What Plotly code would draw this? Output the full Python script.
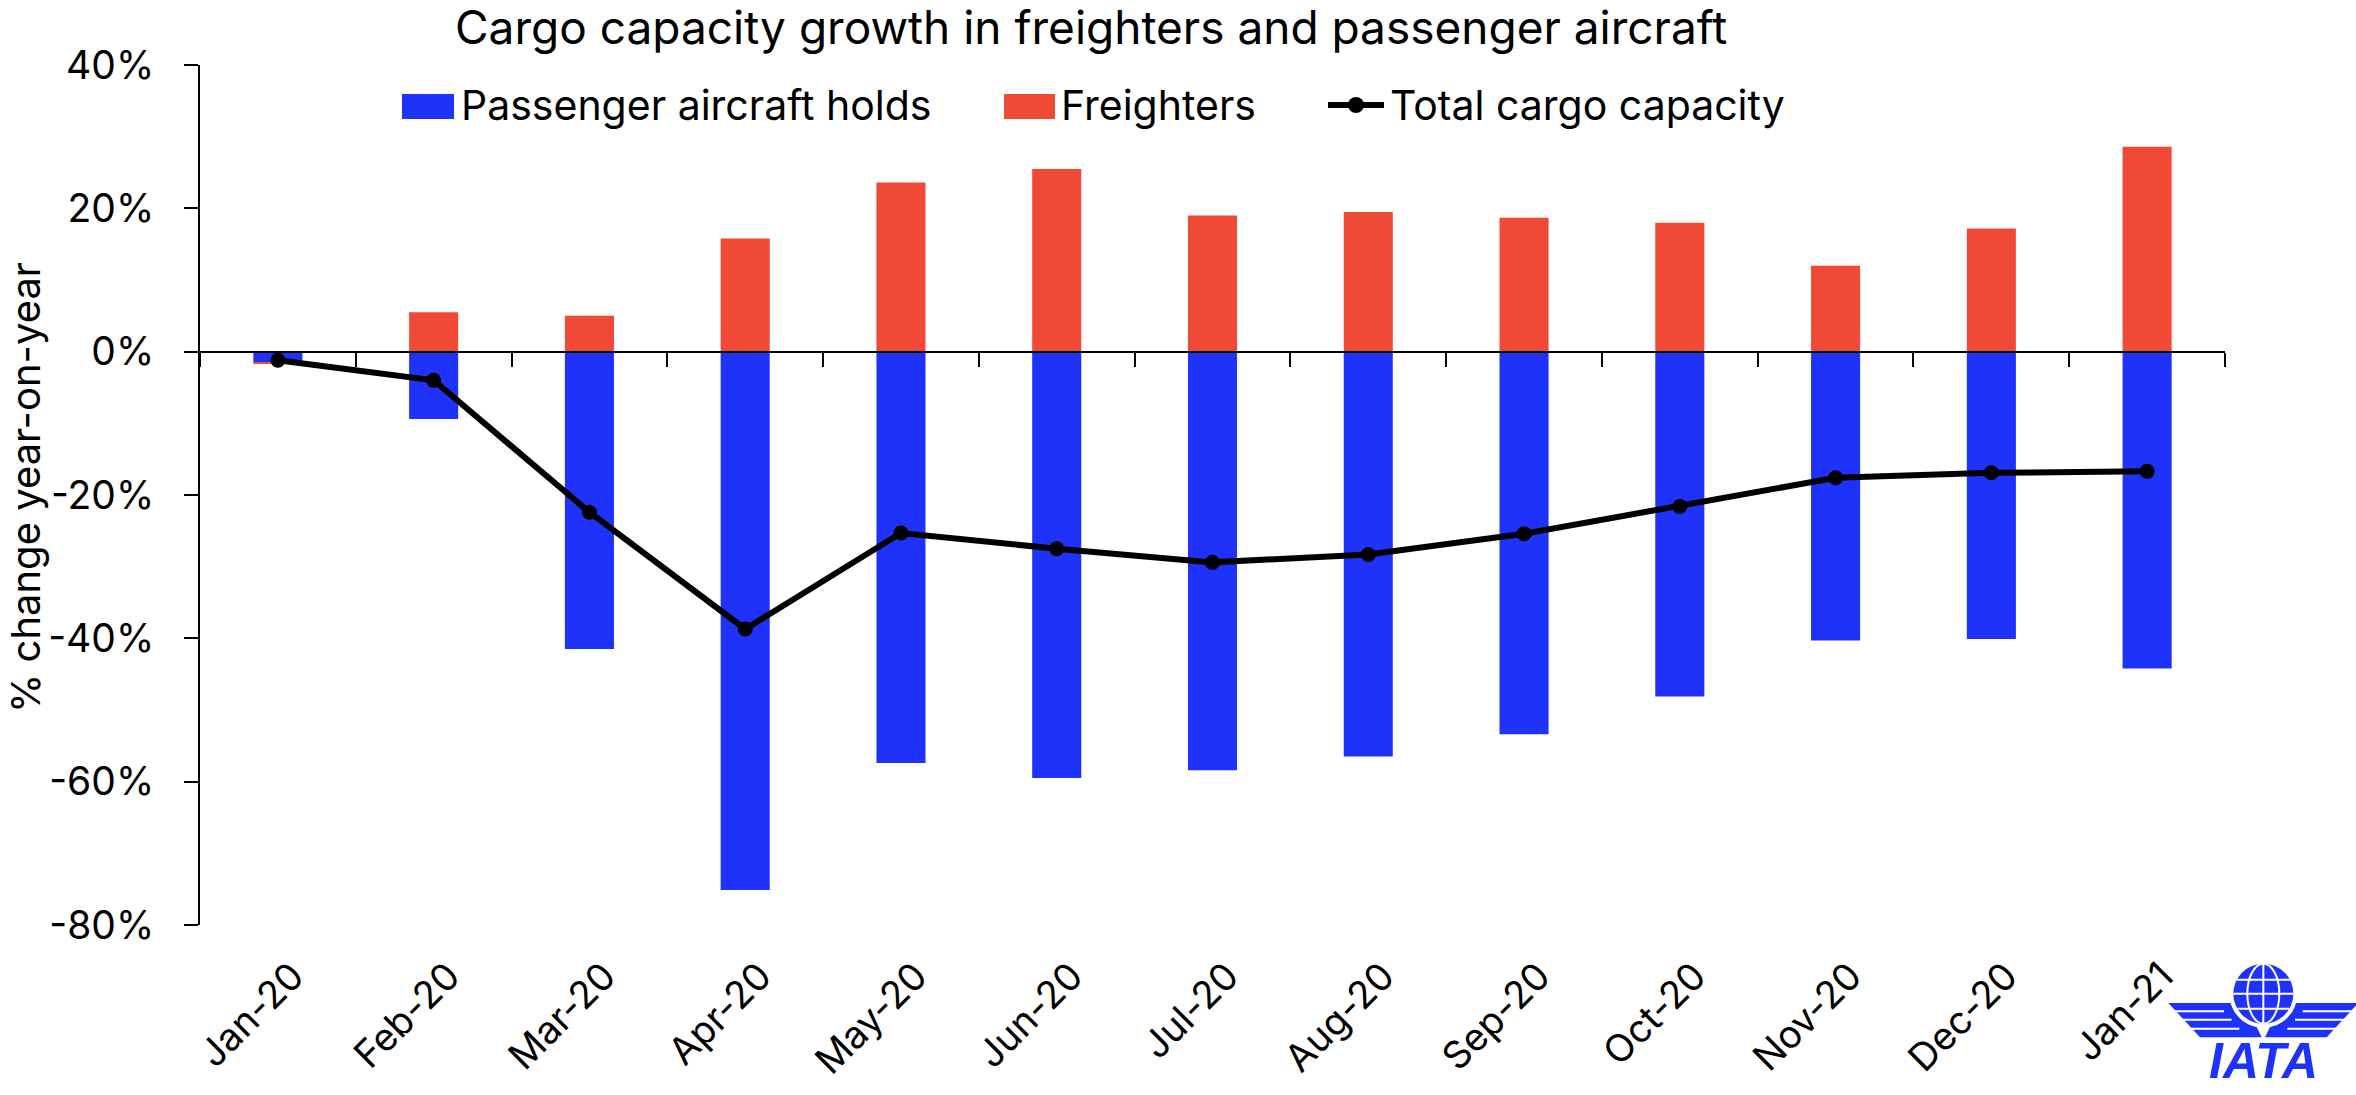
import plotly.graph_objects as go

# ---------------- data ----------------
months = ["Jan-20", "Feb-20", "Mar-20", "Apr-20", "May-20", "Jun-20", "Jul-20",
          "Aug-20", "Sep-20", "Oct-20", "Nov-20", "Dec-20", "Jan-21"]
passenger_holds = [-1.5, -9.4, -41.5, -75.1, -57.4, -59.5, -58.4, -56.5, -53.4, -48.1, -40.3, -40.1, -44.2]
freighters = [-0.2, 5.5, 5.0, 15.8, 23.6, 25.5, 19.0, 19.5, 18.7, 18.0, 12.0, 17.2, 28.6]
total_capacity = [-1.2, -4.0, -22.4, -38.7, -25.3, -27.5, -29.4, -28.3, -25.4, -21.6, -17.6, -16.9, -16.7]
y_ticks = [-80, -60, -40, -20, 0, 20, 40]
y_tick_labels = ["-80%", "-60%", "-40%", "-20%", "0%", "20%", "40%"]

title_text = "Cargo capacity growth in freighters and passenger aircraft"
y_title = "% change year-on-year"
legend_names = ["Passenger aircraft holds", "Freighters", "Total cargo capacity"]

BLUE = "#1E32FA"
RED = "#F04A36"
FONT = "Inter"

W, H = 2356, 1095
ML, MR, MT, MB = 200, 131, 65, 170
PW, PH = W - ML - MR, H - MT - MB


def px(x):
    return (x - ML) / PW


def py(y):
    return (H - MB - y) / PH


fig = go.Figure()
fig.add_trace(go.Bar(x=months, y=passenger_holds, name=legend_names[0],
                     marker=dict(color=BLUE, line=dict(width=0)), showlegend=False))
fig.add_trace(go.Bar(x=months, y=freighters, name=legend_names[1],
                     marker=dict(color=RED, line=dict(width=0)), showlegend=False))
fig.add_trace(go.Scatter(x=months, y=total_capacity, name=legend_names[2], mode="lines+markers",
                         line=dict(color="black", width=6),
                         marker=dict(color="black", size=15), showlegend=False))
# invisible helper trace for the zero-line axis with boundary ticks
fig.add_trace(go.Scatter(x=list(range(len(months))), y=total_capacity, xaxis="x2",
                         mode="markers", marker=dict(opacity=0), showlegend=False,
                         hoverinfo="skip"))

fig.update_layout(
    width=W, height=H,
    margin=dict(l=ML, r=MR, t=MT, b=MB),
    paper_bgcolor="white", plot_bgcolor="white",
    barmode="relative", bargap=0.685,
    font=dict(family=FONT, color="black", size=38),
    xaxis=dict(type="category", categoryorder="array", categoryarray=months,
               range=[-0.5, len(months) - 0.5],
               showline=False, ticks="", showgrid=False, zeroline=False,
               tickangle=-45, tickfont=dict(size=38, family=FONT),
               ticklabelstandoff=20, ticklabelshift=15),
    xaxis2=dict(overlaying="x", anchor="free", position=80 / 120,
                range=[-0.5, len(months) - 0.5], tick0=-0.5, dtick=1,
                showline=True, linecolor="black", linewidth=2,
                ticks="outside", ticklen=14, tickwidth=2, tickcolor="black",
                showticklabels=False, showgrid=False, zeroline=False),
    yaxis=dict(range=[-80, 40], tickmode="array", tickvals=y_ticks, ticktext=y_tick_labels,
               showline=True, linecolor="black", linewidth=2,
               ticks="outside", ticklen=14, tickwidth=2, tickcolor="black",
               showgrid=False, zeroline=False,
               tickfont=dict(size=39, family=FONT), ticklabelstandoff=22),
)

annotations = [
    dict(text=title_text, xref="paper", yref="paper", x=px(1091), y=py(27),
         xanchor="center", yanchor="middle", showarrow=False,
         font=dict(size=46, family=FONT, color="black")),
    dict(text=y_title, xref="paper", yref="paper", x=px(25), y=py(488),
         xanchor="center", yanchor="middle", textangle=-90, showarrow=False,
         font=dict(size=40, family=FONT, color="black")),
    dict(text=legend_names[0], xref="paper", yref="paper", x=px(459), y=py(105),
         xanchor="left", yanchor="middle", showarrow=False,
         font=dict(size=41, family=FONT, color="black")),
    dict(text=legend_names[1], xref="paper", yref="paper", x=px(1059), y=py(105),
         xanchor="left", yanchor="middle", showarrow=False,
         font=dict(size=41, family=FONT, color="black")),
    dict(text=legend_names[2], xref="paper", yref="paper", x=px(1388), y=py(105),
         xanchor="left", yanchor="middle", showarrow=False,
         font=dict(size=41, family=FONT, color="black")),
    dict(text="<b><i>IATA</i></b>", xref="paper", yref="paper", x=px(2263), y=py(1061),
         xanchor="center", yanchor="middle", showarrow=False,
         font=dict(size=50, family="Liberation Sans", color=BLUE)),
]

shapes = [
    # legend swatches
    dict(type="rect", xref="paper", yref="paper", x0=px(402), x1=px(454), y0=py(119), y1=py(94),
         fillcolor=BLUE, line=dict(width=0)),
    dict(type="rect", xref="paper", yref="paper", x0=px(1004), x1=px(1055), y0=py(119), y1=py(94),
         fillcolor=RED, line=dict(width=0)),
    dict(type="line", xref="paper", yref="paper", x0=px(1328), x1=px(1384), y0=py(105), y1=py(105),
         line=dict(color="black", width=6)),
    dict(type="circle", xref="paper", yref="paper", x0=px(1348), x1=px(1364), y0=py(113), y1=py(97),
         fillcolor="black", line=dict(width=0)),
]


# ---- IATA logo (drawn with shapes); coords from a 3x crop, nudged up slightly
def L(dx, dy):
    return 2150 + dx / 3, 948 + dy / 3


def path_from(points):
    s = ""
    for i, (dx, dy) in enumerate(points):
        X, Y = L(dx, dy)
        s += ("M" if i == 0 else "L") + f"{px(X):.5f},{py(Y):.5f} "
    return s + "Z"


left_wing = [(55, 165), (242, 165), (253, 190), (274, 215), (298, 230), (320, 237),
             (335, 268), (150, 268)]
right_wing = [(680 - x, y) for x, y in left_wing]
for wing in (left_wing, right_wing):
    shapes.append(dict(type="path", xref="paper", yref="paper", path=path_from(wing),
                       fillcolor=BLUE, line=dict(width=0)))
for (x0, x1, yy) in [(70, 222, 190), (95, 245, 215), (120, 268, 242)]:
    for a, b in ((x0, x1), (680 - x1, 680 - x0)):
        X0, Y0 = L(a, yy)
        X1, _ = L(b, yy)
        shapes.append(dict(type="line", xref="paper", yref="paper", x0=px(X0), x1=px(X1),
                           y0=py(Y0), y1=py(Y0), line=dict(color="white", width=2)))

gx, gy = L(340, 137)
for r, col in ((34, "white"), (30, BLUE)):
    shapes.append(dict(type="circle", xref="paper", yref="paper",
                       x0=px(gx - r), x1=px(gx + r), y0=py(gy + r), y1=py(gy - r),
                       fillcolor=col, line=dict(width=0)))
shapes.append(dict(type="circle", xref="paper", yref="paper",
                   x0=px(gx - 16), x1=px(gx + 16), y0=py(gy + 30), y1=py(gy - 30),
                   line=dict(color="white", width=2)))
shapes.append(dict(type="line", xref="paper", yref="paper", x0=px(gx), x1=px(gx),
                   y0=py(gy - 30), y1=py(gy + 30), line=dict(color="white", width=2)))
for off in (-14, 0, 15):
    half = (30 ** 2 - off ** 2) ** 0.5
    shapes.append(dict(type="line", xref="paper", yref="paper", x0=px(gx - half), x1=px(gx + half),
                       y0=py(gy + off), y1=py(gy + off), line=dict(color="white", width=2)))

fig.update_layout(annotations=annotations, shapes=shapes)
fig.write_html("out.html")
